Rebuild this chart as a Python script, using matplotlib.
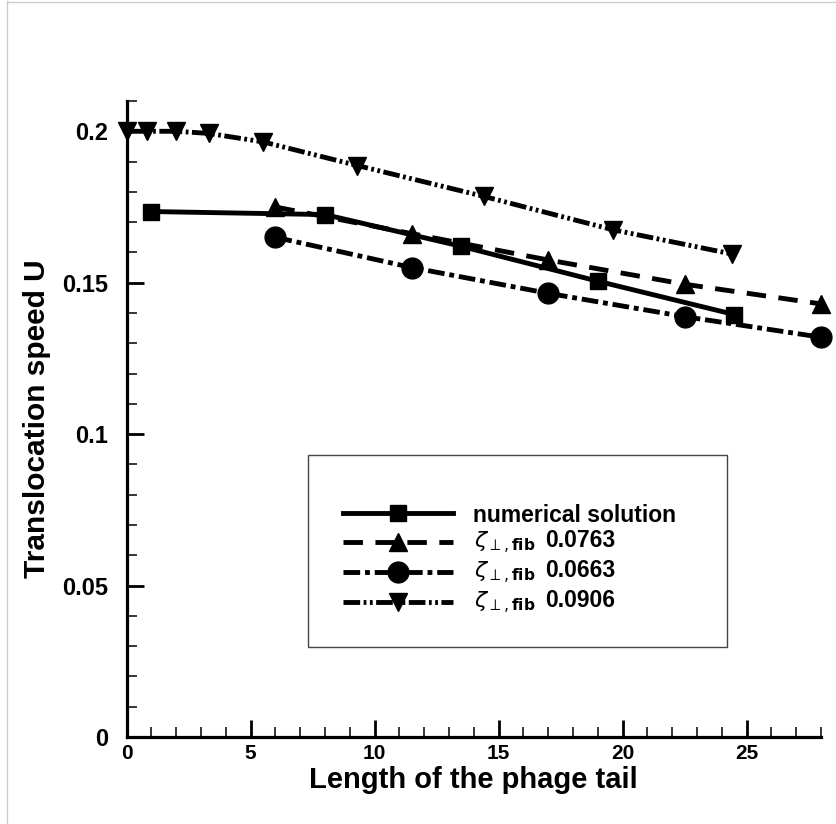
import matplotlib
matplotlib.use("Agg")
import matplotlib.pyplot as plt
from matplotlib.ticker import MultipleLocator, FixedLocator
from matplotlib.lines import Line2D
from matplotlib.patches import Rectangle

# ---------------- data ----------------
x_num = [1.0, 8.0, 13.5, 19.0, 24.5]
y_num = [0.1735, 0.1725, 0.1620, 0.1505, 0.1395]

x_0763 = [6.0, 11.5, 17.0, 22.5, 28.0]
y_0763 = [0.1750, 0.1662, 0.1575, 0.1495, 0.1430]

x_0663 = [6.0, 11.5, 17.0, 22.5, 28.0]
y_0663 = [0.1650, 0.1550, 0.1465, 0.1388, 0.1320]

x_0906 = [0.0, 0.8, 2.0, 3.3, 5.5, 9.3, 14.4, 19.6, 24.4]
y_0906 = [0.2000, 0.2000, 0.2000, 0.1993, 0.1965, 0.1887, 0.1785, 0.1675, 0.1595]

legend_symbol = r"$\zeta_{\perp,\mathbf{fib}}$"
legend_values = ["", "0.0763", "0.0663", "0.0906"]
legend_first = "numerical solution"

xticks = [0, 5, 10, 15, 20, 25]
yticks = [0, 0.05, 0.1, 0.15, 0.2]
ytick_labels = ["0", "0.05", "0.1", "0.15", "0.2"]

# ---------------- style ----------------
plt.rcParams['font.family'] = ['Liberation Sans', 'DejaVu Sans']
plt.rcParams['mathtext.fontset'] = 'dejavusans'
plt.rcParams['lines.scale_dashes'] = False

W, H = 836, 824
fig = plt.figure(figsize=(W / 100, H / 100), dpi=100)

def fx(px):
    return px / W

def fy(py):
    return 1 - py / H

# faint frame lines at top and left of the image
fig.add_artist(Line2D([fx(7), fx(7)], [0, fy(1)], transform=fig.transFigure,
                      color='#cccccc', lw=1.0))
fig.add_artist(Line2D([fx(7), 1], [fy(1.5), fy(1.5)], transform=fig.transFigure,
                      color='#cccccc', lw=1.0))

ax = fig.add_axes([fx(126.7), fy(737), (821 - 126.7) / W, (737 - 101) / H])

lw = 3.5
styles = [
    dict(ls='-', marker='s', ms=11.5),
    dict(ls=(0, (14, 9)), marker='^', ms=13),
    dict(ls=(0, (12, 3.5, 3.5, 3.5)), marker='o', ms=15),
    dict(ls=(0, (12, 2.5, 2, 2.5, 2, 2.5)), marker='v', ms=13),
]
series = [(x_num, y_num), (x_0763, y_0763), (x_0663, y_0663), (x_0906, y_0906)]
for (xs, ys), st in zip(series, styles):
    ax.plot(xs, ys, color='black', lw=lw, linestyle=st['ls'],
            marker=st['marker'], ms=st['ms'], mfc='black', mec='black',
            clip_on=False, zorder=3)

ax.set_xlim(0, 28)
ax.set_ylim(0, 0.21)
ax.xaxis.set_major_locator(FixedLocator(xticks))
ax.xaxis.set_minor_locator(MultipleLocator(1))
ax.yaxis.set_major_locator(FixedLocator(yticks))
ax.yaxis.set_minor_locator(MultipleLocator(0.01))
ax.set_yticklabels(ytick_labels)

for s in ['top', 'right']:
    ax.spines[s].set_visible(False)
for s in ['left', 'bottom']:
    ax.spines[s].set_linewidth(2.3)

ax.tick_params(which='major', direction='in', length=12, width=2, colors='black')
ax.tick_params(which='minor', direction='in', length=7, width=1.1)
ax.tick_params(axis='x', which='major', labelsize=15, pad=5)
ax.tick_params(axis='y', which='major', labelsize=17, pad=13.5)
for t in ax.get_xticklabels() + ax.get_yticklabels():
    t.set_fontweight('bold')

ax.set_xlabel("Length of the phage tail", fontsize=21, fontweight='bold', labelpad=2)
ax.set_ylabel("Translocation speed U", fontsize=21.5, fontweight='bold', labelpad=8)

# ---------------- legend (drawn in figure pixel positions) ----------------
fig.patches.append(Rectangle((fx(308), fy(647)), (727 - 308) / W, (647 - 455) / H,
                             transform=fig.transFigure, fill=False, ec='#444444', lw=1.0))
row_y = [513, 542, 572, 602]
for i, st in enumerate(styles):
    y = fy(row_y[i])
    fig.add_artist(Line2D([fx(343), fx(398), fx(453)], [y, y, y],
                          transform=fig.transFigure, color='black', lw=lw,
                          linestyle=st['ls'], marker=st['marker'], ms=st['ms'],
                          markevery=[1], mfc='black', mec='black'))
    if i == 0:
        fig.text(fx(473), fy(row_y[i] + 9), legend_first, fontsize=16.5,
                 fontweight='bold', ha='left', va='baseline')
    else:
        fig.text(fx(474), fy(row_y[i] + 6), legend_symbol, fontsize=16,
                 ha='left', va='baseline')
        fig.text(fx(545), fy(row_y[i] + 5), legend_values[i], fontsize=16.5,
                 fontweight='bold', ha='left', va='baseline')

fig.savefig("out.png", dpi=100)
